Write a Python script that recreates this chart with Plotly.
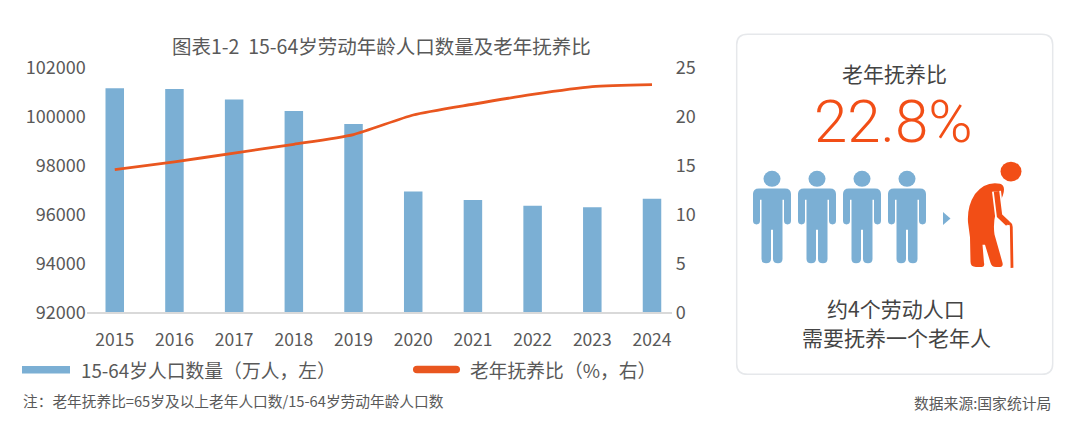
import plotly.graph_objects as go

# ---------------- data ----------------
years = ['2015', '2016', '2017', '2018', '2019', '2020', '2021', '2022', '2023', '2024']
pop_15_64 = [101180, 101140, 100710, 100240, 99710, 96950, 96600, 96360, 96300, 96650]
old_dep_ratio = [14.6, 15.4, 16.3, 17.2, 18.2, 20.2, 21.3, 22.3, 23.1, 23.3]
left_ticks = [92000, 94000, 96000, 98000, 100000, 102000]
right_ticks = [0, 5, 10, 15, 20, 25]

title_text = '图表1-2\u00a0\u00a015-64岁劳动年龄人口数量及老年抚养比'
legend_bar = '15-64岁人口数量（万人，左）'
legend_line = '老年抚养比（%，右）'
note_text = '注：老年抚养比=65岁及以上老年人口数/15-64岁劳动年龄人口数'
source_text = '数据来源:国家统计局'
panel_title = '老年抚养比'
panel_value = '22.8%'
panel_line1 = '约4个劳动人口'
panel_line2 = '需要抚养一个老年人'

# ---------------- style ----------------
W, H = 1080, 433
OFF = 8  # page offset of the figure inside the browser window
FONT = 'Noto Sans CJK SC'
BLUE = '#7BAFD4'
ORANGE = '#E9561F'
ORANGE_ICON = '#F24E16'
GRAY = '#595959'
DARK = '#444444'


def px(x):
    return (x - OFF) / W


def py(y):
    return 1 - (y - OFF) / H


def path(*segs):
    out = []
    for s in segs:
        op = s[0]
        nums = s[1:]
        coords = [f"{px(nums[i]):.5f},{py(nums[i + 1]):.5f}" for i in range(0, len(nums), 2)]
        out.append(op + ' ' + ' '.join(coords))
    return ' '.join(out)


fig = go.Figure()
fig.add_trace(go.Bar(x=years, y=pop_15_64, marker=dict(color=BLUE, line=dict(width=0)),
                     width=0.31, name=legend_bar, yaxis='y', showlegend=False,
                     hoverinfo='x+y'))
fig.add_trace(go.Scatter(x=years, y=old_dep_ratio, mode='lines', name=legend_line,
                         line=dict(color=ORANGE, width=2.8, shape='spline', smoothing=0.6),
                         yaxis='y2', showlegend=False))

shapes = []

# legend swatches
shapes.append(dict(type='rect', xref='paper', yref='paper', x0=px(22), x1=px(70), y0=py(381), y1=py(373),
                   fillcolor=BLUE, line=dict(width=0)))
shapes.append(dict(type='path', xref='paper', yref='paper', fillcolor=ORANGE, line=dict(width=0),
                   path=path(('M', 417, 372.7), ('L', 456, 372.7), ('Q', 460, 372.7, 460, 376.7),
                             ('Q', 460, 380.7, 456, 380.7), ('L', 417, 380.7),
                             ('Q', 413, 380.7, 413, 376.7), ('Q', 413, 372.7, 417, 372.7), ('Z',))))

# right panel rounded rectangle
x0, y0, x1, y1, r = 736.7, 20, 1052.7, 381.7, 11
shapes.append(dict(type='path', xref='paper', yref='paper', layer='below', fillcolor='#FFFFFF',
                   line=dict(color='#E6E8EB', width=1.5),
                   path=path(('M', x0 + r, y0), ('L', x1 - r, y0), ('Q', x1, y0, x1, y0 + r),
                             ('L', x1, y1 - r), ('Q', x1, y1, x1 - r, y1), ('L', x0 + r, y1),
                             ('Q', x0, y1, x0, y1 - r), ('L', x0, y0 + r), ('Q', x0, y0, x0 + r, y0), ('Z',))))


def person(c):
    res = []
    res.append(dict(type='circle', xref='paper', yref='paper', fillcolor=BLUE, line=dict(width=0),
                    x0=px(c - 8.5), x1=px(c + 8.5), y0=py(182.3), y1=py(165.3)))
    res.append(dict(type='path', xref='paper', yref='paper', fillcolor=BLUE, line=dict(width=0),
                    path=path(('M', c - 19, 190), ('Q', c - 19, 184, c - 13, 184), ('L', c + 13, 184),
                              ('Q', c + 19, 184, c + 19, 190), ('L', c + 19, 218.5),
                              ('Q', c + 19, 222.3, c + 15.5, 222.3), ('Q', c + 12, 222.3, c + 12, 218.5),
                              ('L', c + 12, 196), ('L', c + 10.5, 196), ('L', c + 10.5, 259),
                              ('Q', c + 10.5, 263.5, c + 6, 263.5), ('Q', c + 1, 263.5, c + 1, 259),
                              ('L', c + 1, 228), ('L', c - 1, 228), ('L', c - 1, 259),
                              ('Q', c - 1, 263.5, c - 6, 263.5), ('Q', c - 10.5, 263.5, c - 10.5, 259),
                              ('L', c - 10.5, 196), ('L', c - 12, 196), ('L', c - 12, 218.5),
                              ('Q', c - 12, 222.3, c - 15.5, 222.3), ('Q', c - 19, 222.3, c - 19, 218.5),
                              ('Z',))))
    return res


for c in [772, 817, 862, 907]:
    shapes += person(c)

# arrow
shapes.append(dict(type='path', xref='paper', yref='paper', fillcolor=BLUE, line=dict(width=0),
                   path=path(('M', 943, 209), ('L', 950.5, 216), ('L', 943, 223), ('Z',))))

# elderly figure
shapes.append(dict(type='circle', xref='paper', yref='paper', fillcolor=ORANGE_ICON, line=dict(width=0),
                   x0=px(1000.5), x1=px(1021.5), y0=py(176.5), y1=py(155.5)))
shapes.append(dict(type='path', xref='paper', yref='paper', fillcolor=ORANGE_ICON, line=dict(width=0),
                   path=path(('M', 1000, 179), ('Q', 985, 176, 975, 190), ('Q', 967, 203, 968, 220),
                             ('L', 970, 236), ('L', 970.5, 262), ('Q', 970.5, 267.5, 976, 267.5),
                             ('L', 982, 267.5), ('Q', 985, 267.5, 984, 263), ('L', 982.5, 244),
                             ('L', 985, 244), ('L', 990.5, 263), ('Q', 991.5, 267.5, 996, 267.5),
                             ('L', 1000, 267.5), ('Q', 1003.5, 267.5, 1002.5, 263), ('L', 994.5, 233),
                             ('Q', 993, 222, 995.5, 211), ('L', 1003, 191), ('Q', 1006, 181, 1000, 179),
                             ('Z',))))
# arm (white separation then orange)
arm = path(('M', 996.5, 187), ('L', 999.5, 213), ('L', 1008, 221.5))
shapes.append(dict(type='path', xref='paper', yref='paper', line=dict(color='#FFFFFF', width=9), path=arm))
shapes.append(dict(type='path', xref='paper', yref='paper', line=dict(color=ORANGE_ICON, width=5.5), path=arm))
# cane
shapes.append(dict(type='path', xref='paper', yref='paper', line=dict(color=ORANGE_ICON, width=2.8),
                   path=path(('M', 1007, 222), ('Q', 1011, 219.5, 1011.3, 225), ('L', 1012, 268.5))))

annotations = []


def txt(text, x, y, size, color, xanchor='center', weight=None, family=FONT):
    f = dict(family=family, size=size, color=color)
    if weight:
        f['weight'] = weight
    annotations.append(dict(text=text, x=px(x), y=py(y), xref='paper', yref='paper', showarrow=False,
                            xanchor=xanchor, yanchor='middle', font=f))


txt(title_text, 381, 31.7, 19.5, GRAY)
txt(legend_bar, 79, 376.7, 18.8, GRAY, xanchor='left')
txt(legend_line, 468, 376.7, 18.8, GRAY, xanchor='left')
txt(note_text, 21, 409.3, 14.7, GRAY, xanchor='left')
txt(source_text, 1053, 411.5, 14.8, GRAY, xanchor='right')
txt(panel_title, 894, 61.6, 21, DARK)
txt(panel_value, 893, 112.8, 60, ORANGE_ICON, weight=300, family='Roboto, Noto Sans CJK SC')
txt(panel_line1, 896, 311.7, 21, DARK)
txt(panel_line2, 896.5, 341.7, 21, DARK)

tickfont = dict(family=FONT, size=18, color=GRAY)
fig.update_layout(
    width=W, height=H,
    margin=dict(l=0, r=0, t=0, b=0),
    paper_bgcolor='#FFFFFF', plot_bgcolor='rgba(0,0,0,0)',
    showlegend=False,
    xaxis=dict(domain=[px(86.7), px(671.7)], type='category', range=[-0.47, 9.33],
               showline=True, linecolor='#D9D9D9', linewidth=1.5, ticks='', showgrid=False,
               zeroline=False, fixedrange=True, tickfont=dict(family=FONT, size=17.5, color=GRAY),
               ticklabelstandoff=11),
    yaxis=dict(domain=[py(315.7), py(56)], range=[92000, 102000], tickvals=left_ticks,
               tickformat='d', showgrid=False, zeroline=False, showline=False, ticks='',
               tickfont=tickfont, fixedrange=True, ticklabelstandoff=0),
    yaxis2=dict(overlaying='y', side='right', anchor='x', range=[0, 25], tickvals=right_ticks,
                showgrid=False, zeroline=False, showline=False, ticks='', tickfont=tickfont,
                fixedrange=True, ticklabelstandoff=3),
    shapes=shapes,
    annotations=annotations,
)

fig.write_html('out.html')
